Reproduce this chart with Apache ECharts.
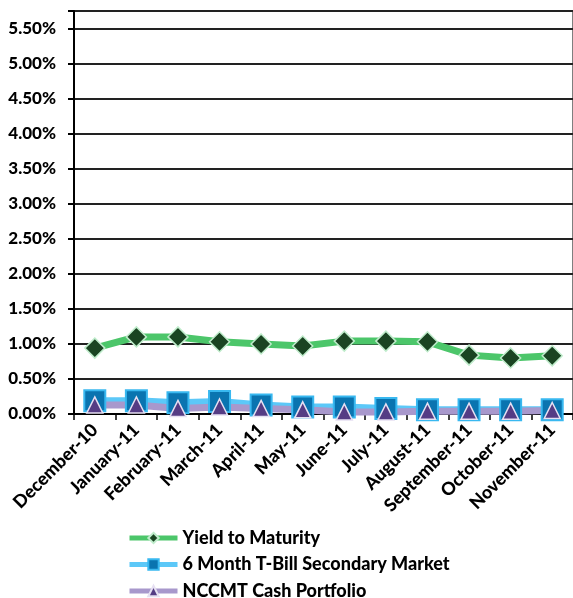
<!DOCTYPE html>
<html>
<head>
<meta charset="utf-8">
<script src="https://cdn.jsdelivr.net/npm/echarts@6/dist/echarts.min.js"></script>
<style>
  html, body { margin: 0; padding: 0; background: #fff; }
  #chart { width: 573px; height: 598px; }
</style>
</head>
<body>
<div id="chart"></div>
<script>
// 月份
var months = ['December-10', 'January-11', 'February-11', 'March-11', 'April-11', 'May-11',
    'June-11', 'July-11', 'August-11', 'September-11', 'October-11', 'November-11'];
// 收益率 (%)
var yieldToMaturity = [0.94, 1.10, 1.10, 1.03, 1.00, 0.97, 1.04, 1.04, 1.03, 0.84, 0.80, 0.83];
var tBill6Month = [0.19, 0.19, 0.16, 0.18, 0.13, 0.10, 0.10, 0.08, 0.06, 0.06, 0.06, 0.06];
var nccmtCash = [0.13, 0.13, 0.08, 0.10, 0.08, 0.06, 0.03, 0.03, 0.04, 0.04, 0.04, 0.05];
var seriesNames = ['Yield to Maturity', '6 Month T-Bill Secondary Market', 'NCCMT Cash Portfolio'];

var font = 'Lato';
var weight = 900;
var myChart = echarts.init(document.getElementById('chart'));
myChart.setOption({
    animation: false,
    grid: {
        left: 74,
        top: 11,
        right: -6,
        bottom: 184,
        show: true,
        borderColor: '#555',
        borderWidth: 1.5
    },
    legend: {
        orient: 'vertical',
        left: 122,
        top: 524,
        height: 100,
        itemWidth: 48,
        itemHeight: 13,
        itemGap: 8.5,
        lineStyle: { width: 5 },
        data: seriesNames,
        textStyle: { fontFamily: font, fontWeight: weight, fontSize: 18, color: '#000' }
    },
    xAxis: {
        type: 'category',
        data: months,
        boundaryGap: true,
        axisLine: { lineStyle: { color: '#000', width: 2 } },
        axisTick: { show: true, length: 6, lineStyle: { color: '#000', width: 1.5 } },
        axisLabel: {
            interval: 0,
            rotate: 45,
            margin: 13,
            fontFamily: font,
            fontWeight: weight,
            fontSize: 18,
            color: '#000'
        }
    },
    yAxis: {
        type: 'value',
        min: 0,
        max: 5.75,
        interval: 0.5,
        axisLine: { show: true, lineStyle: { color: '#000', width: 2 } },
        axisTick: { show: true, length: 6, lineStyle: { color: '#000', width: 2 } },
        splitLine: { lineStyle: { color: '#222', width: 2 } },
        axisLabel: {
            margin: 18,
            fontFamily: font,
            fontWeight: weight,
            fontSize: 17,
            color: '#000',
            formatter: function (v) {
                return v > 5.5 ? '' : v.toFixed(2) + '%';
            }
        }
    },
    series: [{
        name: seriesNames[0],
        type: 'line',
        data: yieldToMaturity,
        symbol: 'diamond',
        symbolSize: 20,
        lineStyle: { color: '#4cc66a', width: 7 },
        itemStyle: { color: '#1a4422', borderColor: '#bfeccb', borderWidth: 1.5 }
    }, {
        name: seriesNames[1],
        type: 'line',
        data: tBill6Month,
        symbol: 'rect',
        symbolSize: 21,
        lineStyle: { color: '#5cc8f8', width: 7 },
        itemStyle: { color: '#0a74b0', borderColor: '#38b8f0', borderWidth: 2 }
    }, {
        name: seriesNames[2],
        type: 'line',
        data: nccmtCash,
        symbol: 'triangle',
        symbolSize: 16,
        lineStyle: { color: '#a898cc', width: 7 },
        itemStyle: { color: '#553c84', borderColor: '#e6e0f2', borderWidth: 1.5 }
    }]
});
</script>
</body>
</html>
